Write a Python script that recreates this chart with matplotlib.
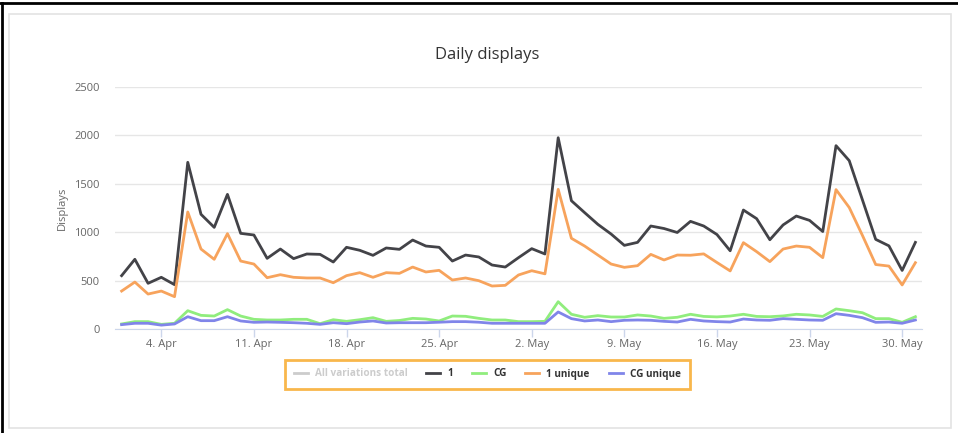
from datetime import date, timedelta

import matplotlib
matplotlib.use("Agg")
import matplotlib.pyplot as plt
import matplotlib.dates as mdates
from matplotlib.lines import Line2D
from matplotlib.patches import Rectangle
from matplotlib.ticker import FuncFormatter


# daily values, 1 April .. 31 May
START_DAY = date(2016, 4, 1)

series_1 = [
    551, 720, 472, 534, 458, 1722, 1185, 1050, 1391, 988,
    971, 730, 826, 727, 775, 771, 692, 844, 813, 761,
    837, 823, 919, 857, 844, 702, 764, 744, 661, 640,
    737, 830, 775, 1976, 1325, 1202, 1081, 981, 864, 895,
    1064, 1038, 997, 1112, 1064, 976, 808, 1229, 1140, 922,
    1075, 1167, 1122, 1007, 1894, 1739, 1333, 926, 859, 605,
    895,
]
series_cg = [
    52, 76, 76, 48, 59, 189, 141, 134, 200, 134,
    100, 93, 93, 100, 100, 55, 96, 79, 96, 117,
    79, 88, 110, 103, 83, 134, 131, 110, 93, 93,
    76, 76, 79, 282, 152, 121, 138, 124, 124, 145,
    134, 110, 121, 152, 130, 125, 134, 152, 130, 127,
    135, 152, 145, 130, 207, 189, 168, 107, 107, 69,
    127,
]
series_1_unique = [
    392, 485, 361, 392, 334, 1209, 826, 720, 985, 702,
    671, 530, 561, 534, 527, 527, 478, 551, 582, 534,
    582, 575, 640, 589, 606, 506, 527, 499, 444, 451,
    558, 602, 570, 1443, 937, 857, 764, 671, 637, 654,
    771, 713, 764, 762, 776, 687, 600, 892, 799, 696,
    826, 857, 844, 737, 1440, 1255, 966, 666, 650, 455,
    685,
]
series_cg_unique = [
    45, 59, 59, 40, 52, 127, 86, 86, 127, 83,
    69, 72, 69, 65, 59, 48, 65, 55, 72, 83,
    62, 65, 65, 65, 70, 76, 76, 70, 59, 59,
    59, 59, 59, 176, 107, 83, 93, 76, 90, 93,
    90, 79, 72, 100, 83, 76, 72, 103, 93, 90,
    107, 100, 93, 90, 158, 141, 117, 69, 72, 59,
    93,
]

legend_names = ["All variations total", "1", "CG", "1 unique", "CG unique"]
y_ticks = [0, 500, 1000, 1500, 2000, 2500]

days = [START_DAY + timedelta(days=i) for i in range(len(series_1))]

plt.rcParams["font.family"] = ["Open Sans", "DejaVu Sans"]

W, H = 958, 433
fig = plt.figure(figsize=(W / 100, H / 100), dpi=100)

# outer frame + panel
fig.add_artist(Line2D([2 / W, 2 / W], [0, 1 - 3 / H], color="black", lw=2))
fig.add_artist(Line2D([0, 1], [1 - 3 / H, 1 - 3 / H], color="black", lw=2))
fig.add_artist(Rectangle((9 / W, 1 - 428 / H), 942 / W, 414 / H,
                         fill=False, edgecolor="#e3e3e3", lw=1.2))

ax = fig.add_axes([115 / W, 1 - 329 / H, 807 / W, 242 / H])

colors = {
    "1": "#434348",
    "CG": "#90ed7d",
    "1 unique": "#f7a35c",
    "CG unique": "#8085e9",
}
ax.plot(days, series_1, color=colors["1"], lw=2, zorder=3)
ax.plot(days, series_cg, color=colors["CG"], lw=2, zorder=3)
ax.plot(days, series_1_unique, color=colors["1 unique"], lw=2, zorder=3)
ax.plot(days, series_cg_unique, color=colors["CG unique"], lw=2, zorder=3)

ax.set_ylim(0, 2500)
ax.set_yticks(y_ticks)
ax.set_xlim(mdates.date2num(days[0]) - 0.5, mdates.date2num(days[-1]) + 0.5)

ax.xaxis.set_major_locator(mdates.WeekdayLocator(byweekday=mdates.MO))
ax.xaxis.set_major_formatter(FuncFormatter(
    lambda v, pos: f"{mdates.num2date(v).day}. {mdates.num2date(v).strftime('%b')}"))

ax.grid(axis="y", color="#e6e6e6", lw=1)
ax.set_axisbelow(True)
for side in ["top", "right", "left"]:
    ax.spines[side].set_visible(False)
ax.spines["bottom"].set_color("#ccd6eb")
ax.spines["bottom"].set_zorder(4)

ax.tick_params(axis="y", length=0, pad=11, labelsize=8, labelcolor="#666666")
ax.tick_params(axis="x", length=6, width=1, color="#ccd6eb", pad=1,
               labelsize=8, labelcolor="#666666")

fig.text(62 / W, 1 - 208 / H, "Displays", rotation=90, ha="center", va="center",
         fontsize=8, color="#666666")
fig.text(487 / W, 1 - 55 / H, "Daily displays", ha="center", va="center",
         fontsize=12, color="#333333")

handles = [Line2D([], [], color="#cccccc", lw=2)]
handles += [Line2D([], [], color=colors[n], lw=2) for n in legend_names[1:]]
leg = fig.legend(handles, legend_names, loc="center", ncol=5,
                 bbox_to_anchor=(487 / W, 1 - 374 / H),
                 prop={"weight": "bold", "size": 7.2},
                 handlelength=1.4, handletextpad=0.7, columnspacing=1.9,
                 frameon=True, fancybox=False, borderpad=0.9)
leg.get_frame().set_edgecolor("#f7a51f")
leg.get_frame().set_linewidth(2)
for i, t in enumerate(leg.get_texts()):
    t.set_color("#cccccc" if i == 0 else "#333333")

fig.savefig("out.png", dpi=100)
